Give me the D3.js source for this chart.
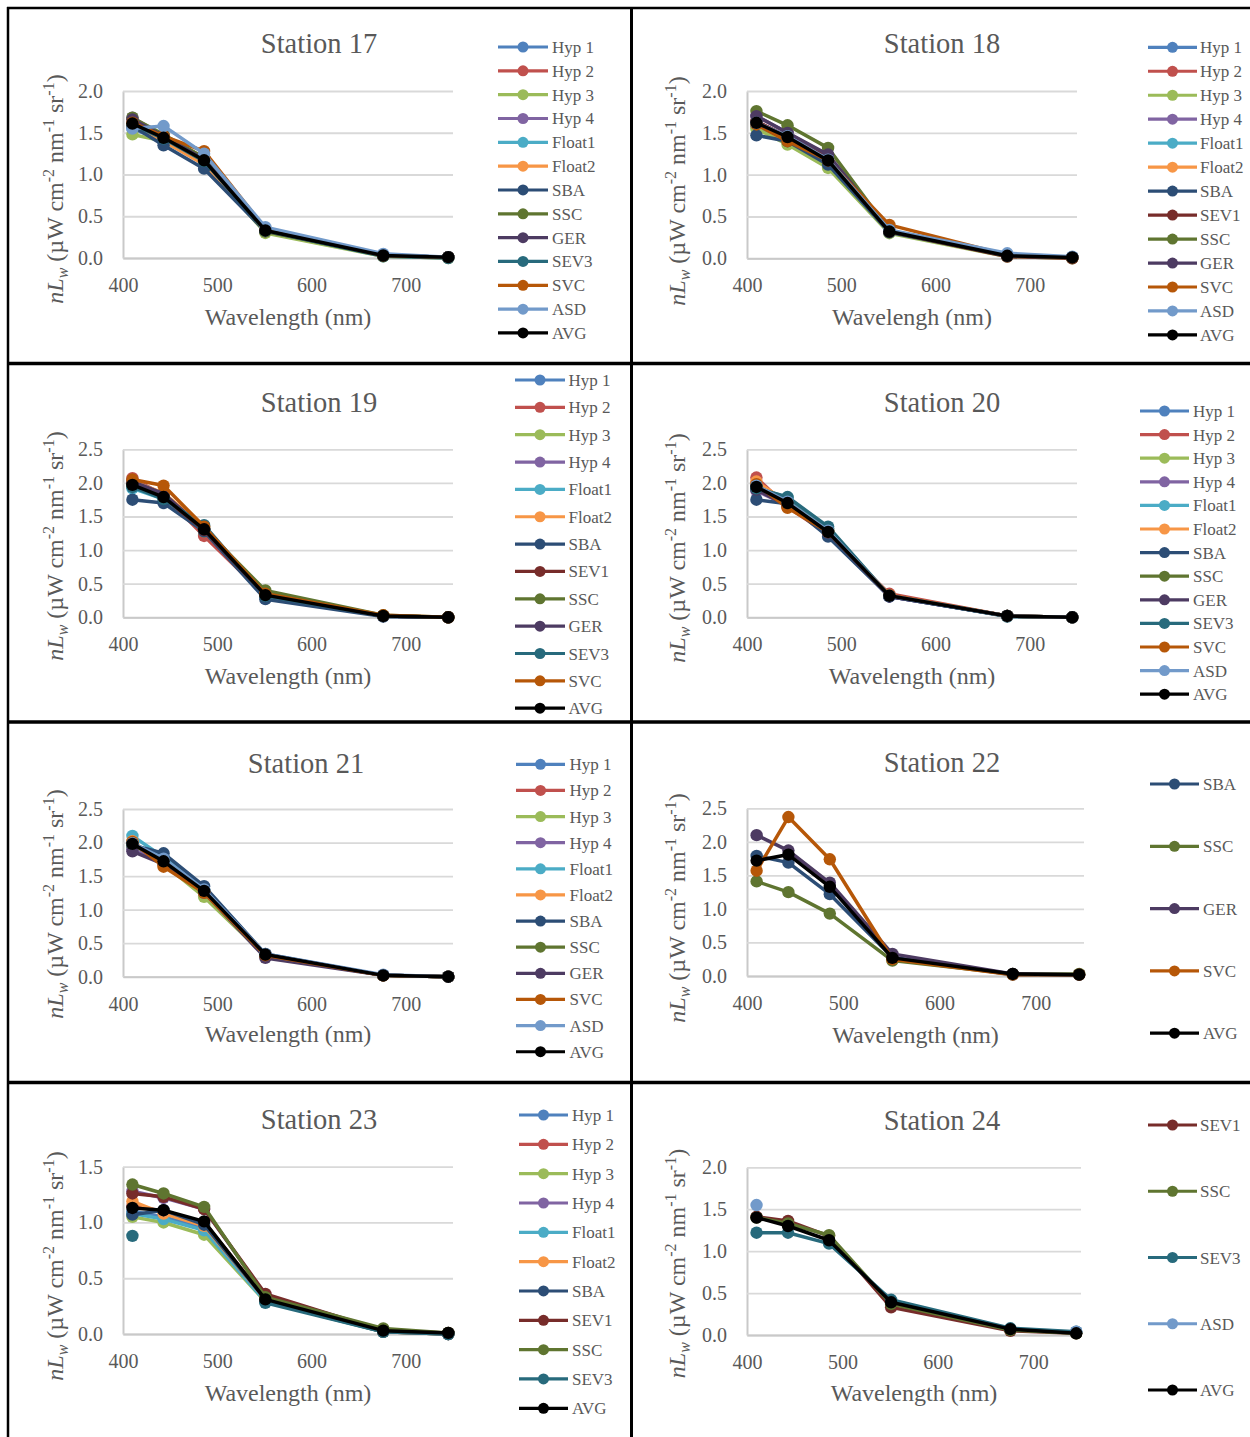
<!DOCTYPE html>
<html>
<head>
<meta charset="utf-8">
<script src="https://cdn.jsdelivr.net/npm/d3@7"></script>
<style>
  body { margin: 0; background: #ffffff; }
  svg { display: block; }
  text { font-family: "Liberation Serif", "Times New Roman", serif; fill: #595959; }
</style>
</head>
<body>
<svg id="chart" width="1250" height="1437"></svg>
<script>
// ---- data -------------------------------------------------------------
const wavelengths = [410, 443, 486, 551, 676, 745];
const xTickValues = [400, 500, 600, 700];
const xDomain = [400, 750];
const stationNames = ["Station 17", "Station 18", "Station 19", "Station 20",
                      "Station 21", "Station 22", "Station 23", "Station 24"];
const xAxisTitles = ["Wavelength (nm)", "Wavelengh (nm)", "Wavelength (nm)", "Wavelength (nm)",
                     "Wavelength (nm)", "Wavelength (nm)", "Wavelength (nm)", "Wavelength (nm)"];
const yMaxima = [2.0, 2.0, 2.5, 2.5, 2.5, 2.5, 1.5, 2.0];
const yTickStep = 0.5;

const seriesColors = {
  "Hyp 1": "#4F81BD", "Hyp 2": "#C0504D", "Hyp 3": "#9BBB59", "Hyp 4": "#8064A2",
  "Float1": "#4BACC6", "Float2": "#F79646", "SBA": "#2C4D75", "SEV1": "#772C2A",
  "SSC": "#5F7530", "GER": "#4D3B62", "SEV3": "#276A7C", "SVC": "#B65708",
  "ASD": "#729ACA", "AVG": "#000000"
};

// nLw per instrument, one value per wavelength (null = no measurement)
const station17 = [
  ["Hyp 1",  [1.55, 1.40, 1.15, 0.33, 0.03, 0.01]],
  ["Hyp 2",  [1.62, 1.45, 1.19, 0.32, 0.03, 0.01]],
  ["Hyp 3",  [1.48, 1.40, 1.14, 0.30, 0.02, 0.00]],
  ["Hyp 4",  [1.68, 1.47, 1.20, 0.33, 0.03, 0.01]],
  ["Float1", [1.60, 1.44, 1.17, 0.33, 0.03, 0.01]],
  ["Float2", [1.58, 1.40, 1.12, 0.32, 0.03, 0.01]],
  ["SBA",    [1.58, 1.35, 1.07, 0.32, 0.03, 0.01]],
  ["SSC",    [1.68, 1.48, 1.20, 0.32, 0.03, 0.01]],
  ["GER",    [1.66, 1.46, 1.18, 0.34, 0.03, 0.01]],
  ["SEV3",   [1.60, 1.43, 1.16, 0.33, 0.02, 0.00]],
  ["SVC",    [1.62, 1.46, 1.28, 0.35, 0.03, 0.01]],
  ["ASD",    [1.55, 1.58, 1.25, 0.37, 0.05, 0.01]],
  ["AVG",    [1.61, 1.44, 1.17, 0.33, 0.03, 0.01]]
];
const station18 = [
  ["Hyp 1",  [1.58, 1.42, 1.14, 0.31, 0.03, 0.01]],
  ["Hyp 2",  [1.63, 1.46, 1.19, 0.32, 0.03, 0.01]],
  ["Hyp 3",  [1.55, 1.36, 1.08, 0.30, 0.02, 0.00]],
  ["Hyp 4",  [1.70, 1.50, 1.22, 0.33, 0.03, 0.01]],
  ["Float1", [1.60, 1.44, 1.15, 0.32, 0.03, 0.01]],
  ["Float2", [1.62, 1.43, 1.16, 0.33, 0.03, 0.01]],
  ["SBA",    [1.47, 1.40, 1.12, 0.31, 0.03, 0.01]],
  ["SEV1",   [1.64, 1.45, 1.20, 0.32, 0.02, 0.00]],
  ["SSC",    [1.76, 1.59, 1.32, 0.33, 0.03, 0.01]],
  ["GER",    [1.70, 1.50, 1.24, 0.33, 0.03, 0.01]],
  ["SVC",    [1.60, 1.40, 1.17, 0.40, 0.04, 0.01]],
  ["ASD",    [1.62, 1.46, 1.18, 0.34, 0.06, 0.02]],
  ["AVG",    [1.62, 1.45, 1.17, 0.32, 0.03, 0.01]]
];
const station19 = [
  ["Hyp 1",  [2.00, 1.80, 1.30, 0.31, 0.02, 0.00]],
  ["Hyp 2",  [2.07, 1.82, 1.21, 0.32, 0.02, 0.00]],
  ["Hyp 3",  [1.98, 1.80, 1.28, 0.33, 0.02, 0.00]],
  ["Hyp 4",  [2.04, 1.83, 1.32, 0.33, 0.02, 0.00]],
  ["Float1", [1.92, 1.76, 1.33, 0.32, 0.02, 0.00]],
  ["Float2", [2.02, 1.85, 1.34, 0.33, 0.02, 0.00]],
  ["SBA",    [1.75, 1.70, 1.28, 0.27, 0.01, 0.00]],
  ["SEV1",   [1.98, 1.78, 1.30, 0.33, 0.02, 0.00]],
  ["SSC",    [1.96, 1.80, 1.32, 0.40, 0.03, 0.00]],
  ["GER",    [2.02, 1.84, 1.31, 0.33, 0.02, 0.00]],
  ["SEV3",   [1.94, 1.76, 1.37, 0.32, 0.02, 0.00]],
  ["SVC",    [2.05, 1.96, 1.35, 0.35, 0.03, 0.00]],
  ["AVG",    [1.97, 1.79, 1.31, 0.33, 0.02, 0.00]]
];
const station20 = [
  ["Hyp 1",  [1.90, 1.68, 1.25, 0.31, 0.02, 0.00]],
  ["Hyp 2",  [2.08, 1.64, 1.24, 0.35, 0.02, 0.00]],
  ["Hyp 3",  [1.96, 1.70, 1.27, 0.32, 0.02, 0.00]],
  ["Hyp 4",  [1.88, 1.67, 1.24, 0.31, 0.02, 0.00]],
  ["Float1", [1.93, 1.78, 1.32, 0.32, 0.02, 0.00]],
  ["Float2", [2.02, 1.71, 1.28, 0.33, 0.02, 0.00]],
  ["SBA",    [1.75, 1.69, 1.20, 0.31, 0.02, 0.00]],
  ["SSC",    [1.95, 1.72, 1.30, 0.32, 0.02, 0.00]],
  ["GER",    [1.90, 1.66, 1.26, 0.31, 0.02, 0.00]],
  ["SEV3",   [1.92, 1.79, 1.35, 0.32, 0.01, 0.00]],
  ["SVC",    [1.98, 1.63, 1.27, 0.33, 0.02, 0.00]],
  ["ASD",    [1.96, 1.72, 1.29, 0.32, 0.02, 0.00]],
  ["AVG",    [1.94, 1.70, 1.27, 0.32, 0.02, 0.00]]
];
const station21 = [
  ["Hyp 1",  [1.96, 1.74, 1.30, 0.32, 0.02, 0.00]],
  ["Hyp 2",  [2.00, 1.72, 1.27, 0.33, 0.02, 0.00]],
  ["Hyp 3",  [1.92, 1.68, 1.19, 0.31, 0.02, 0.00]],
  ["Hyp 4",  [1.90, 1.70, 1.25, 0.31, 0.02, 0.00]],
  ["Float1", [2.10, 1.78, 1.30, 0.33, 0.02, 0.00]],
  ["Float2", [2.02, 1.66, 1.26, 0.32, 0.02, 0.00]],
  ["SBA",    [1.96, 1.84, 1.35, 0.34, 0.02, 0.00]],
  ["SSC",    [1.98, 1.71, 1.27, 0.33, 0.02, 0.00]],
  ["GER",    [1.87, 1.68, 1.26, 0.28, 0.02, 0.00]],
  ["SVC",    [2.01, 1.64, 1.25, 0.32, 0.02, 0.00]],
  ["ASD",    [1.99, 1.76, 1.30, 0.34, 0.03, 0.00]],
  ["AVG",    [1.98, 1.72, 1.28, 0.33, 0.02, 0.00]]
];
const station22 = [
  ["SBA",    [1.79, 1.69, 1.22, 0.28, 0.02, 0.02]],
  ["SSC",    [1.41, 1.25, 0.93, 0.23, 0.03, 0.03]],
  ["GER",    [2.10, 1.87, 1.39, 0.33, 0.03, 0.02]],
  ["SVC",    [1.57, 2.37, 1.74, 0.25, 0.02, 0.02]],
  ["AVG",    [1.72, 1.81, 1.33, 0.27, 0.03, 0.02]]
];
const station23 = [
  ["Hyp 1",  [1.10, 1.05, 0.95, 0.30, 0.02, 0.00]],
  ["Hyp 2",  [1.15, 1.10, 1.00, 0.32, 0.02, 0.00]],
  ["Hyp 3",  [1.05, 1.00, 0.89, 0.29, 0.02, 0.00]],
  ["Hyp 4",  [1.28, 1.22, 1.12, 0.35, 0.03, 0.00]],
  ["Float1", [1.08, 1.03, 0.93, 0.29, 0.02, 0.00]],
  ["Float2", [1.19, 1.08, 0.97, 0.31, 0.02, 0.00]],
  ["SBA",    [1.07, 1.11, 0.98, 0.31, 0.02, 0.00]],
  ["SEV1",   [1.26, 1.23, 1.12, 0.36, 0.03, 0.01]],
  ["SSC",    [1.34, 1.26, 1.14, 0.33, 0.05, 0.01]],
  ["SEV3",   [0.88, null, null, 0.28, 0.02, 0.00]],
  ["AVG",    [1.13, 1.11, 1.01, 0.31, 0.03, 0.01]]
];
const station24 = [
  ["SEV1",   [1.41, 1.36, 1.18, 0.33, 0.05, 0.02]],
  ["SSC",    [1.40, 1.33, 1.19, 0.37, 0.06, 0.02]],
  ["SEV3",   [1.22, 1.22, 1.09, 0.42, 0.08, 0.04]],
  ["ASD",    [1.55, null, null, null, null, 0.04]],
  ["AVG",    [1.40, 1.30, 1.13, 0.39, 0.07, 0.02]]
];
const stationSeries = [station17, station18, station19, station20,
                       station21, station22, station23, station24];

// ---- layout (pixel geometry of each panel) -----------------------------
// plot: [left, top, right, bottom]; legend: line x0/x1, text x, first row y, row step
const panelLayout = [
  { plot: [123, 91, 453, 258],      title: [319, 53],    xTitleY: 325,  yTitle: [63, 189],   legend: { x0: 498,  x1: 548,  tx: 552,  y0: 47,    dy: 23.83 } },
  { plot: [747, 91, 1077, 258.3],   title: [942, 53],    xTitleY: 325,  yTitle: [685, 191],  legend: { x0: 1148, x1: 1197, tx: 1200, y0: 47.3,  dy: 23.97 } },
  { plot: [123, 449.3, 453, 617.3], title: [319, 411.5], xTitleY: 684,  yTitle: [63, 546],   legend: { x0: 515,  x1: 565,  tx: 568.5, y0: 380,  dy: 27.35 } },
  { plot: [747, 449.3, 1077, 617.3],title: [942, 412],   xTitleY: 684,  yTitle: [685, 548],  legend: { x0: 1140, x1: 1189, tx: 1193, y0: 411,   dy: 23.6 } },
  { plot: [123, 809, 453, 976.7],   title: [306, 773],   xTitleY: 1042, yTitle: [63, 904],   legend: { x0: 516,  x1: 565,  tx: 569.5, y0: 764.3, dy: 26.13 } },
  { plot: [747, 808.3, 1084, 976],  title: [942, 771.5], xTitleY: 1043, yTitle: [685, 908],  legend: { x0: 1150, x1: 1199, tx: 1203, y0: 784,   dy: 62.3 } },
  { plot: [123, 1166.7, 453, 1334], title: [319, 1129],  xTitleY: 1401, yTitle: [63, 1266],  legend: { x0: 519,  x1: 568,  tx: 572,  y0: 1115,  dy: 29.33 } },
  { plot: [747, 1167.3, 1081, 1335],title: [942, 1130],  xTitleY: 1401, yTitle: [685, 1263.5], legend: { x0: 1148, x1: 1197, tx: 1200, y0: 1125, dy: 66.25 } }
];

const svg = d3.select("#chart");
const TEXT = "#595959";

// ---- outer frame and cell dividers -------------------------------------
const frame = svg.append("g").attr("stroke", "#000").attr("fill", "none");
frame.append("line").attr("x1", 8).attr("x2", 8).attr("y1", 7).attr("y2", 1437).attr("stroke-width", 2.5);
frame.append("line").attr("x1", 7).attr("x2", 1250).attr("y1", 8).attr("y2", 8).attr("stroke-width", 2.5);
frame.append("line").attr("x1", 631.5).attr("x2", 631.5).attr("y1", 7).attr("y2", 1437).attr("stroke-width", 3);
[363.5, 722, 1082.5].forEach(yy =>
  frame.append("line").attr("x1", 7).attr("x2", 1250).attr("y1", yy).attr("y2", yy).attr("stroke-width", 3.5));

// ---- panels ------------------------------------------------------------
stationSeries.forEach((series, i) => {
  const L = panelLayout[i];
  const [left, top, right, bottom] = L.plot;
  const x = d3.scaleLinear().domain(xDomain).range([left, right]);
  const y = d3.scaleLinear().domain([0, yMaxima[i]]).range([bottom, top]);
  const g = svg.append("g");

  // horizontal gridlines + value labels
  const yTicks = d3.range(0, yMaxima[i] + 1e-9, yTickStep);
  g.append("g")
    .attr("transform", `translate(${left},0)`)
    .call(d3.axisLeft(y).tickValues(yTicks).tickSize(-(right - left)).tickSizeOuter(0)
      .tickPadding(20).tickFormat(d3.format(".1f")))
    .call(a => {
      a.attr("font-size", null).attr("font-family", null);
      a.select(".domain").attr("stroke", "#C9C9C9").attr("stroke-width", 2);
      a.selectAll(".tick line").attr("stroke", "#D9D9D9").attr("stroke-width", 1.8);
      a.selectAll(".tick text").attr("fill", TEXT).style("font-size", "20px");
    });

  // wavelength axis
  g.append("g")
    .attr("transform", `translate(0,${bottom})`)
    .call(d3.axisBottom(x).tickValues(xTickValues).tickSize(0).tickSizeOuter(0).tickPadding(20))
    .call(a => {
      a.attr("font-size", null).attr("font-family", null);
      a.select(".domain").attr("stroke", "#C9C9C9").attr("stroke-width", 2);
      a.selectAll(".tick text").attr("fill", TEXT).style("font-size", "20px");
    });

  // title
  g.append("text").attr("x", L.title[0]).attr("y", L.title[1])
    .attr("text-anchor", "middle").style("font-size", "28.5px").text(stationNames[i]);

  // x axis title
  g.append("text").attr("x", (left + right) / 2).attr("y", L.xTitleY)
    .attr("text-anchor", "middle").style("font-size", "24px").text(xAxisTitles[i]);

  // y axis title: nLw (µW cm-2 nm-1 sr-1)
  const yt = g.append("text")
    .attr("transform", `translate(${L.yTitle[0]},${L.yTitle[1]}) rotate(-90)`)
    .attr("text-anchor", "middle").style("font-size", "24px");
  yt.append("tspan").style("font-style", "italic").text("nL");
  yt.append("tspan").style("font-style", "italic").style("font-size", "16px").attr("dy", 5).text("w");
  yt.append("tspan").attr("dy", -5).text(" (\u00B5W cm");
  yt.append("tspan").style("font-size", "16px").attr("dy", -9).text("-2");
  yt.append("tspan").attr("dy", 9).text(" nm");
  yt.append("tspan").style("font-size", "16px").attr("dy", -9).text("-1");
  yt.append("tspan").attr("dy", 9).text(" sr");
  yt.append("tspan").style("font-size", "16px").attr("dy", -9).text("-1");
  yt.append("tspan").attr("dy", 9).text(")");

  // series: line then markers, in legend order (AVG last, on top)
  const line = d3.line()
    .defined(d => d.v != null)
    .x(d => x(d.w))
    .y(d => y(d.v));
  series.forEach(([name, values]) => {
    const pts = wavelengths.map((w, k) => ({ w, v: values[k] }));
    const col = seriesColors[name];
    g.append("path").datum(pts)
      .attr("d", line).attr("fill", "none").attr("stroke", col)
      .attr("stroke-width", 3.5).attr("stroke-linejoin", "round").attr("stroke-linecap", "round");
    g.selectAll(null).data(pts.filter(d => d.v != null)).enter().append("circle")
      .attr("cx", d => x(d.w)).attr("cy", d => y(d.v)).attr("r", 6.2).attr("fill", col);
  });

  // legend
  const lg = L.legend;
  series.forEach(([name], k) => {
    const yy = lg.y0 + k * lg.dy;
    const col = seriesColors[name];
    g.append("line").attr("x1", lg.x0).attr("x2", lg.x1).attr("y1", yy).attr("y2", yy)
      .attr("stroke", col).attr("stroke-width", 3.2);
    g.append("circle").attr("cx", (lg.x0 + lg.x1) / 2).attr("cy", yy).attr("r", 5.5).attr("fill", col);
    g.append("text").attr("x", lg.tx).attr("y", yy + 6).style("font-size", "17px").text(name);
  });
});
</script>
</body>
</html>
